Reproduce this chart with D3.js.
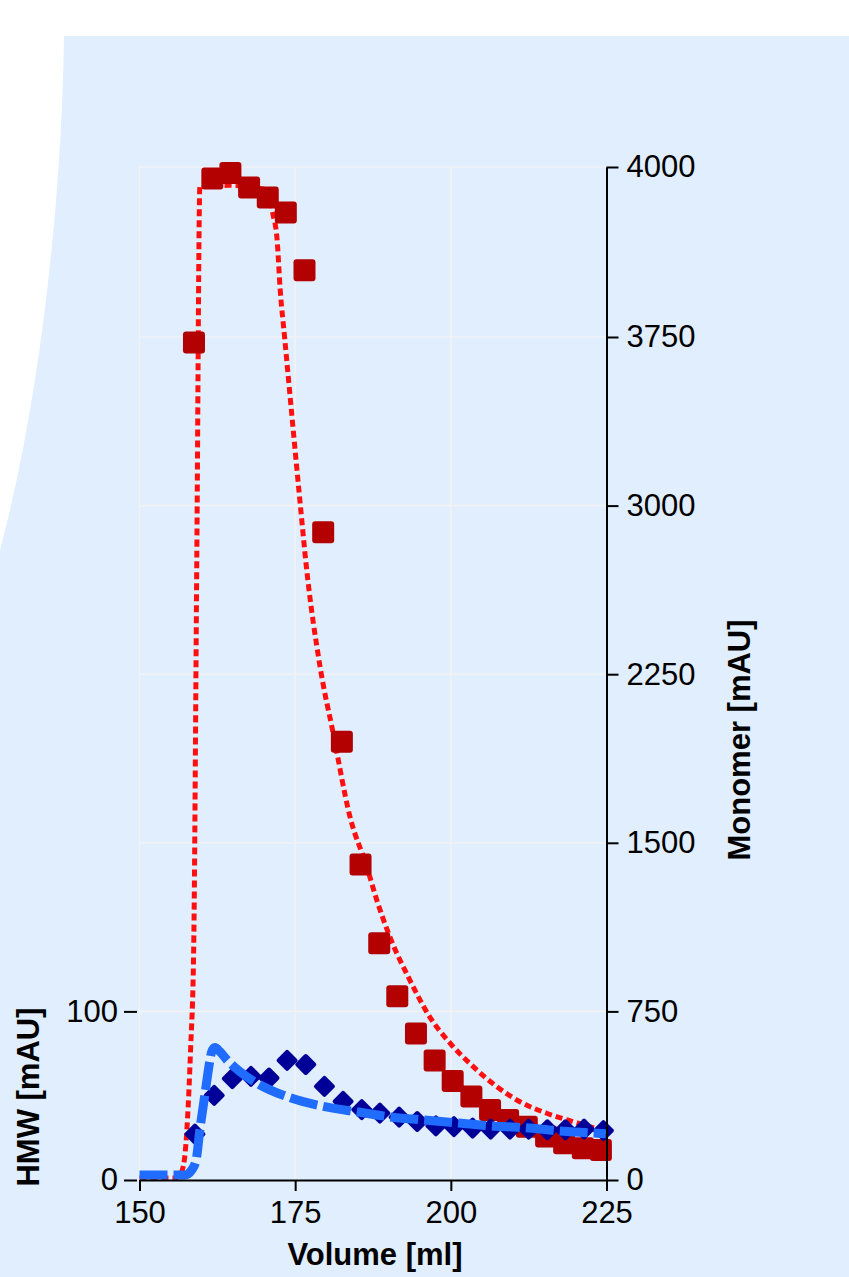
<!DOCTYPE html>
<html>
<head>
<meta charset="utf-8">
<script src="https://cdn.jsdelivr.net/npm/d3@7"></script>
<style>
  html, body { margin: 0; padding: 0; background: #ffffff; }
  svg { display: block; }
  text { font-family: "Liberation Sans", Arial, Helvetica, sans-serif; }
</style>
</head>
<body>
<svg id="chart" width="849" height="1277"></svg>
<script>
// ---- Data ----
// Monomer measured points (dark red squares)
const monoVolume = [158.75, 161.7, 164.6, 167.6, 170.6, 173.5, 176.5, 179.5, 182.5, 185.5, 188.5, 191.4, 194.4, 197.4, 200.3, 203.3, 206.3, 209.2, 212.2, 215.3, 218.2, 221.2, 224.1];
const monoValue  = [3725, 3983, 3991, 3970, 3955, 3933, 3848, 2881, 1950, 1404, 1053, 817, 652, 532, 440, 371, 311, 267, 237, 193, 163, 141, 133];

// HMW measured points (dark blue diamonds)
const hmwVolume = [158.9, 162.0, 164.9, 167.9, 170.8, 173.7, 176.7, 179.7, 182.7, 185.7, 188.6, 191.7, 194.6, 197.6, 200.5, 203.5, 206.4, 209.5, 212.5, 215.5, 218.4, 221.4, 224.5];
const hmwValue  = [27.2, 50.2, 60.1, 61.5, 60.5, 71.0, 68.5, 55.5, 46.6, 41.7, 39.7, 37.3, 34.7, 32.1, 31.7, 30.8, 30.2, 30.2, 30.2, 29.8, 29.8, 30.2, 29.3];

// Monomer model curve (red dashed)
const monoFitVolume = [150, 155.5, 156.5, 157.2, 157.7, 158.2, 158.7, 159.2, 159.7, 164.5, 170.6, 171.4, 172.1, 172.6, 173.3, 175.8, 176.8, 179.0, 181.1, 183.8, 186.5, 188.1, 190.2, 193.4, 196.6, 199.9, 203.6, 207.4, 211.1, 215.4, 219.7, 223.9, 224.6];
const monoFitValue  = [9, 9, 22, 89, 267, 578, 1023, 2758, 3972, 3973, 3966, 3932, 3893, 3819, 3750, 3011, 2728, 2283, 1988, 1616, 1394, 1246, 1082, 890, 726, 608, 504, 415, 348, 297, 259, 225, 220];

// HMW model curve (blue long dashes)
const hmwFitVolume = [150, 157.3, 158.4, 159.1, 159.7, 160.5, 161.2, 161.6, 162.1, 162.9, 164.0, 166.1, 169.3, 173.7, 179.1, 184.8, 190.1, 195.4, 200.8, 206.4, 211.9, 217.2, 222.3, 224.9];
const hmwFitValue  = [3, 3, 6, 12, 30, 50.6, 68.5, 76.2, 78.6, 76.2, 71.4, 64.3, 56.5, 49.4, 44, 40.5, 37.5, 35.7, 33.9, 32.1, 31, 29.2, 28, 27.4];

// Axis ticks
const xTicks = [150, 175, 200, 225];
const monoTicks = [0, 750, 1500, 2250, 3000, 3750, 4000];
const hmwTicks = [0, 100];

// ---- Drawing ----
const svg = d3.select("#chart");

// background shape
svg.append("path")
  .attr("d", "M64,36 C62,200 40,400 0,550 L0,1277 L849,1277 L849,36 Z")
  .attr("fill", "#e0eefd");

const x = d3.scaleLinear().domain([150, 225]).range([139.5, 606.5]);
const yMono = d3.scaleLinear().domain([0, 3750, 4000]).range([1180, 337, 167]);
const yHmw = d3.scaleLinear().domain([0, 100]).range([1180, 1011.4]);

// grid
const grid = svg.append("g").attr("stroke", "#f1f2f4").attr("stroke-width", 1.6);
grid.selectAll("line.v").data(xTicks.slice(0, 3)).join("line")
  .attr("x1", d => x(d)).attr("x2", d => x(d))
  .attr("y1", yMono(4000)).attr("y2", yMono(0));
grid.selectAll("line.h").data(monoTicks.slice(1)).join("line")
  .attr("x1", x(150)).attr("x2", x(225))
  .attr("y1", d => yMono(d)).attr("y2", d => yMono(d));

// red model line
const monoFit = monoFitVolume.map((v, i) => [v, monoFitValue[i]]);
svg.append("path")
  .datum(monoFit)
  .attr("d", d3.line().x(d => x(d[0])).y(d => yMono(d[1])).curve(d3.curveMonotoneX))
  .attr("fill", "none")
  .attr("stroke", "#ff0f0f")
  .attr("stroke-width", 5)
  .attr("stroke-dasharray", "7,4");

// squares
const monoPts = monoVolume.map((v, i) => [v, monoValue[i]]);
const sq = 22;
svg.append("g").selectAll("rect").data(monoPts).join("rect")
  .attr("x", d => x(d[0]) - sq / 2)
  .attr("y", d => yMono(d[1]) - sq / 2)
  .attr("width", sq).attr("height", sq)
  .attr("rx", 3)
  .attr("fill", "#b30000");

// diamonds
const hmwPts = hmwVolume.map((v, i) => [v, hmwValue[i]]);
const ds = 16;
svg.append("g").selectAll("rect").data(hmwPts).join("rect")
  .attr("x", -ds / 2).attr("y", -ds / 2)
  .attr("width", ds).attr("height", ds)
  .attr("rx", 2)
  .attr("transform", d => `translate(${x(d[0])},${yHmw(d[1])}) rotate(45)`)
  .attr("fill", "#000099");

// blue model line
const hmwFit = hmwFitVolume.map((v, i) => [v, hmwFitValue[i]]);
svg.append("path")
  .datum(hmwFit)
  .attr("d", d3.line().x(d => x(d[0])).y(d => yHmw(d[1])).curve(d3.curveMonotoneX))
  .attr("fill", "none")
  .attr("stroke", "#1f6cff")
  .attr("stroke-width", 9)
  .attr("stroke-linejoin", "round")
  .attr("stroke-dasharray", "28,6");

// axes
function styleAxis(g) {
  g.selectAll("path.domain").attr("stroke", "#000").attr("stroke-width", 2);
  g.selectAll(".tick line").attr("stroke", "#000").attr("stroke-width", 2);
  g.selectAll("text").attr("font-size", 31).attr("fill", "#000")
    .attr("font-family", '"Liberation Sans", Arial, sans-serif');
}

const xAxis = svg.append("g").attr("transform", "translate(0,1180)")
  .call(d3.axisBottom(x).tickValues(xTicks).tickSize(11).tickSizeOuter(0).tickPadding(10));
styleAxis(xAxis);

const rAxis = svg.append("g").attr("transform", `translate(${x(225)},0)`)
  .call(d3.axisRight(yMono).tickValues(monoTicks).tickFormat(d3.format("d")).tickSize(12).tickSizeOuter(0).tickPadding(8));
styleAxis(rAxis);

const lAxis = svg.append("g").attr("transform", "translate(137,0)")
  .call(d3.axisLeft(yHmw).tickValues(hmwTicks).tickSize(13).tickPadding(6));
lAxis.select("path.domain").remove();
styleAxis(lAxis);

// axis titles
svg.append("text")
  .attr("x", 375).attr("y", 1265)
  .attr("text-anchor", "middle")
  .attr("font-size", 31).attr("font-weight", "bold")
  .text("Volume [ml]");

svg.append("text")
  .attr("transform", "translate(39,1097) rotate(-90)")
  .attr("text-anchor", "middle")
  .attr("font-size", 31).attr("font-weight", "bold")
  .text("HMW [mAU]");

svg.append("text")
  .attr("transform", "translate(750,740) rotate(-90)")
  .attr("text-anchor", "middle")
  .attr("font-size", 31).attr("font-weight", "bold")
  .text("Monomer [mAU]");
</script>
</body>
</html>
